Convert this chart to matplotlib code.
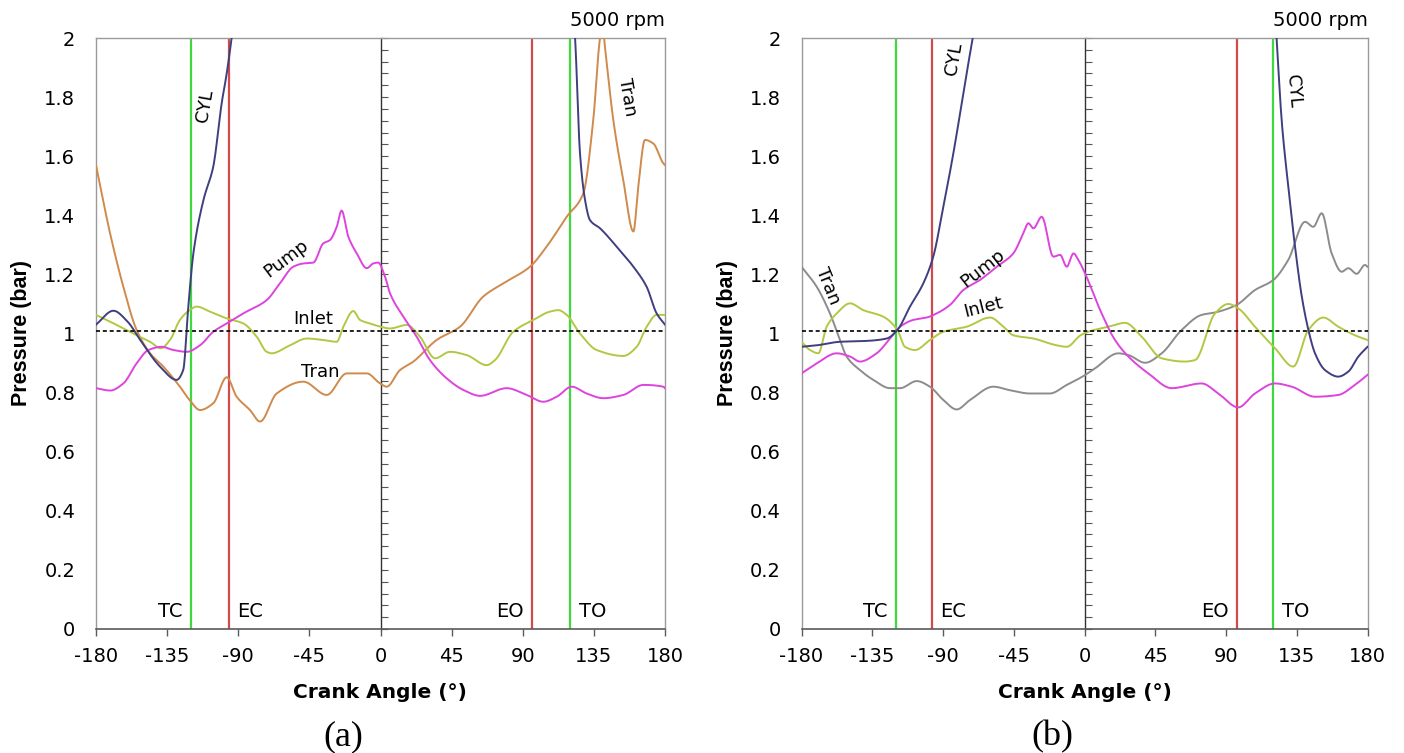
import numpy as np
import matplotlib
matplotlib.use("Agg")
import matplotlib.pyplot as plt

# ---------------------------------------------------------------- data
# Crank angle (deg) and pressure (bar); NaN separates curve branches.
ticks_x = [-180, -135, -90, -45, 0, 45, 90, 135, 180]
ticks_y = [0, 0.2, 0.4, 0.6, 0.8, 1.0, 1.2, 1.4, 1.6, 1.8, 2.0]
tick_y_labels = ["0", "0.2", "0.4", "0.6", "0.8", "1", "1.2", "1.4", "1.6", "1.8", "2"]
ambient = 1.01
speed_label = "5000 rpm"

# port timing (deg)
events_a = {"TC": -120, "EC": -96, "EO": 96, "TO": 120}
events_b = {"TC": -120, "EC": -97, "EO": 97, "TO": 120}

# ---- (a)
cyl_a_x = [-180, -169, -160, -152, -139.5, -129, -124.8, -121.6, -118.4, -112, -105.8,
           -100.5, -97.3, -94.2, -92, np.nan,
           121, 123.1, 126.2, 129.4, 132.5, 138.9, 149.4, 160, 168.4, 174.7, 180]
cyl_a_p = [1.03, 1.077, 1.04, 0.978, 0.888, 0.843, 0.877, 1.091, 1.271, 1.452, 1.565,
           1.779, 1.88, 2.0, 2.1, np.nan,
           2.15, 2.0, 1.61, 1.452, 1.384, 1.356, 1.294, 1.226, 1.158, 1.068, 1.03]

tran_a_x = [-180, -171.1, -162.7, -154.3, -145.8, -137.4, -126.9, -120.8, -114.2, -105.8,
            -97.3, -91, -82.6, -76.2, -65.7, -48.8, -34, -21.4, -8.7, -0.5, 3.9, 12.3,
            20.8, 35.5, 50.3, 65, 77.7, 94.6, 105.1, 117.8, 128.3, 134.6, 138.9, 140.5,
            142, 147.3, 153.6, 160, 163.1, 167.3, 172.6, 178.9, 180]
tran_a_p = [1.57, 1.339, 1.158, 1.012, 0.933, 0.888, 0.82, 0.775, 0.741, 0.764,
            0.852, 0.786, 0.741, 0.702, 0.797, 0.837, 0.792, 0.865, 0.865, 0.832, 0.82, 0.876,
            0.905, 0.978, 1.023, 1.125, 1.17, 1.226, 1.294, 1.395, 1.474, 1.722, 2.0, 2.04,
            1.97, 1.722, 1.519, 1.345, 1.497, 1.655, 1.643, 1.576, 1.57]

pump_a_x = [-180, -171, -162.7, -154.3, -146.9, -138.4, -131, -122.6, -114.2, -105.8,
            -97.3, -86.8, -72, -63.6, -55.2, -48.8, -42.5, -36.2, -32, -27.7, -24.6,
            -20.4, -15, -8.7, -4.6, -1.5, 3, 6, 14.4, 22.9, 31.3, 41.9, 52.4, 63, 79.8,
            92.5, 103, 111.5, 121, 130.4, 141, 153.6, 166.3, 178.9, 180]
pump_a_p = [0.815, 0.807, 0.831, 0.899, 0.944, 0.955, 0.944, 0.938, 0.96, 1.006,
            1.034, 1.068, 1.113, 1.17, 1.226, 1.237, 1.24, 1.305, 1.316, 1.361, 1.416,
            1.328, 1.271, 1.221, 1.237, 1.24, 1.19, 1.136, 1.057, 0.989, 0.91, 0.848, 0.809, 0.789, 0.815,
            0.792, 0.769, 0.786, 0.82, 0.797, 0.781, 0.792, 0.826, 0.82, 0.815]

inlet_a_x = [-180, -171, -162.7, -154.3, -145.8, -139, -133.2, -126.9, -120.8, -116.3,
             -107.9, -97.3, -86.8, -78.3, -72, -68.9, -57.3, -46.7, -36.2, -27.7, -23.5,
             -17.2, -13, -6.8, 0, 6, 16.6, 25, 34.5, 44, 54.5, 67.2, 72.4, 84, 96.7,
             107.2, 112.5, 117.8, 126.2, 136.8, 153.6, 162.1, 168.4, 174.7, 180]
inlet_a_p = [1.063, 1.04, 1.017, 0.994, 0.972, 0.95, 0.978, 1.046, 1.079, 1.091,
             1.074, 1.051, 1.034, 0.989, 0.938, 0.933, 0.96, 0.983, 0.978, 0.972, 1.023,
             1.076, 1.046, 1.034, 1.023, 1.017, 1.029, 0.989, 0.916, 0.938, 0.927, 0.893, 0.91, 1.006, 1.046,
             1.074, 1.079, 1.063, 1.0, 0.944, 0.924, 0.955, 1.023, 1.063, 1.063]

# ---- (b)
cyl_b_x = [-180, -170.3, -155.5, -138.5, -125.8, -119, -111, -102.5, -96.2, -89.8, -83.4,
           -78.1, -73.9, -71.1, -69, np.nan,
           120.5, 122.2, 125.4, 129.6, 133.9, 138.2, 142.4, 146.6, 153, 161.4, 167.8,
           174.2, 180]
cyl_b_p = [0.955, 0.96, 0.972, 0.975, 0.983, 1.012, 1.091, 1.17, 1.26, 1.429, 1.61,
           1.779, 1.914, 2.0, 2.08, np.nan,
           2.15, 2.0, 1.722, 1.497, 1.294, 1.125, 1.012, 0.933, 0.876, 0.854, 0.871,
           0.922, 0.955]

tran_b_x = [-180, -170.3, -161.9, -155.5, -151.3, -142.8, -134.3, -123.7, -117.3, -106.7,
            -98.3, -89.8, -81.3, -72.8, -58, -47.4, -34.7, -22, -11.3, -1, 6.7, 21.5,
            27.9, 38.5, 49.1, 61.8, 74.5, 83, 96.8, 108.4, 120.1, 129.6, 140.3, 145.5,
            150.9, 157.2, 163.6, 167.8, 173.1, 178.4, 180]
tran_b_p = [1.226, 1.158, 1.068, 0.978, 0.922, 0.876, 0.843, 0.815, 0.815, 0.839,
            0.82, 0.775, 0.743, 0.775, 0.82, 0.808, 0.797, 0.797, 0.826, 0.855, 0.882, 0.933,
            0.927, 0.901, 0.933, 1.012, 1.063, 1.071, 1.097, 1.147, 1.181, 1.249, 1.378, 1.361,
            1.407, 1.271, 1.209, 1.221, 1.202, 1.232, 1.226]

pump_b_x = [-180, -170.3, -157.6, -149.1, -142.8, -132.2, -123.7, -117.3, -108.9, -100.4,
            -94, -85.5, -77.1, -66.5, -55.8, -45.3, -38.9, -35.7, -32.5, -27.2, -19.8,
            -15.5, -11.3, -7, -4, 0.3, 10.9, 19.4, 27.9, 40.6, 55.5, 74.5, 85.1, 97.8,
            108.4, 121.2, 131.8, 146.6, 161.4, 172, 180]
pump_b_p = [0.865, 0.899, 0.933, 0.922, 0.905, 0.933, 0.983, 1.023, 1.046, 1.054,
            1.068, 1.097, 1.147, 1.181, 1.226, 1.271, 1.339, 1.373, 1.356, 1.395, 1.26,
            1.266, 1.226, 1.271, 1.25, 1.204, 1.068, 0.978, 0.922, 0.865, 0.815, 0.831, 0.797, 0.75,
            0.797, 0.831, 0.82, 0.786, 0.792, 0.826, 0.86]

inlet_b_x = [-180, -174.6, -169.3, -164, -157.6, -149.1, -140.7, -128, -119, -114.2,
             -107.8, -98.3, -89.8, -74.9, -60.1, -51.6, -45.3, -32.5, -17.7, -11.3, -2.5,
             2.4, 15.2, 25.8, 36.4, 49.1, 63.9, 70.3, 83, 91.5, 97.8, 108.4, 121.2, 132.8,
             142.4, 151.9, 161.4, 172, 180]
inlet_b_p = [0.972, 0.944, 0.933, 1.023, 1.068, 1.102, 1.079, 1.057, 1.012, 0.955,
             0.944, 0.978, 1.006, 1.023, 1.054, 1.023, 0.994, 0.983, 0.96, 0.955, 0.994,
             1.006, 1.023, 1.036, 0.989, 0.916, 0.905, 0.91, 1.068, 1.1, 1.085, 1.023, 0.95, 0.888,
             1.012, 1.054, 1.023, 0.994, 0.978]

# ---------------------------------------------------------------- style
C_CYL = "#3f3f80"
C_TRAN_A = "#cf8a4c"
C_TRAN_B = "#8c8c8c"
C_PUMP = "#dd44dd"
C_INLET = "#b2c843"
C_GREEN = "#3fd83f"
C_RED = "#d24a4a"
SANS = ["DejaVu Sans"]
SANS_V = ["Liberation Sans", "DejaVu Sans"]
SERIF = ["Liberation Serif", "DejaVu Serif"]

W, H = 1404, 753


def pchip(x, y, n=12):
    """Shape-preserving cubic through the points, NaN-separated branches kept apart."""
    x = np.asarray(x, float)
    y = np.asarray(y, float)
    out_x, out_y = [], []
    breaks = np.where(np.isnan(x))[0]
    starts = np.concatenate([[0], breaks + 1])
    ends = np.concatenate([breaks, [len(x)]])
    for s, e in zip(starts, ends):
        xs, ys = x[s:e], y[s:e]
        h = np.diff(xs)
        d = np.diff(ys) / h
        m = np.zeros_like(ys)
        m[0], m[-1] = d[0], d[-1]
        for k in range(1, len(xs) - 1):
            if d[k - 1] * d[k] <= 0:
                m[k] = 0.0
            else:
                w1 = 2 * h[k] + h[k - 1]
                w2 = h[k] + 2 * h[k - 1]
                m[k] = (w1 + w2) / (w1 / d[k - 1] + w2 / d[k])
        for k in range(len(xs) - 1):
            t = np.linspace(0, 1, n, endpoint=(k == len(xs) - 2))
            h00 = 2 * t**3 - 3 * t**2 + 1
            h10 = t**3 - 2 * t**2 + t
            h01 = -2 * t**3 + 3 * t**2
            h11 = t**3 - t**2
            out_x.append(xs[k] + t * h[k])
            out_y.append(h00 * ys[k] + h10 * h[k] * m[k] + h01 * ys[k + 1] + h11 * h[k] * m[k + 1])
        out_x.append([np.nan])
        out_y.append([np.nan])
    return np.concatenate(out_x), np.concatenate(out_y)


fig = plt.figure(figsize=(W / 100, H / 100), dpi=100)


def px_axes(x0, x1, y0, y1):
    return fig.add_axes([x0 / W, 1 - y1 / H, (x1 - x0) / W, (y1 - y0) / H])


def panel(ax, curves, events, labels, cx):
    ax.set_xlim(-180, 180)
    ax.set_ylim(0, 2)
    for sp in ("top", "left", "right"):
        ax.spines[sp].set_color("#9a9a9a")
        ax.spines[sp].set_linewidth(1.0)
    ax.spines["bottom"].set_color("#5a5a5a")
    ax.spines["bottom"].set_linewidth(1.2)

    ax.set_xticks(ticks_x)
    ax.set_xticklabels([str(t) for t in ticks_x], family=SANS, fontsize=14)
    ax.tick_params(axis="x", direction="out", length=5, width=1, color="#5a5a5a", pad=8)
    ax.set_yticks(ticks_y)
    ax.set_yticklabels(tick_y_labels, family=SANS, fontsize=14)
    ax.tick_params(axis="y", length=0, pad=15)

    # centre spine at zero crank angle with fine ticks to its right
    sec = ax.secondary_yaxis(0.5)
    for sp in sec.spines.values():
        sp.set_color("#333333")
        sp.set_linewidth(1.0)
    sec.set_yticks(np.arange(0, 2.001, 0.04))
    sec.set_yticklabels([])
    sec.tick_params(axis="y", direction="out", length=5, width=0.8, color="#555555",
                    labelleft=False, labelright=False)

    # port events
    for name, ang in events.items():
        col = C_GREEN if name in ("TC", "TO") else C_RED
        ax.axvline(ang, color=col, lw=1.6, zorder=2)
        left_side = name in ("TC", "EO")
        ax.annotate(name, (ang, 0.06), xytext=(-6 if left_side else 6, 0),
                    textcoords="offset points", ha="right" if left_side else "left",
                    va="center", fontsize=14, family=SANS)

    ax.axhline(ambient, color="#111111", lw=1.3, ls=(0, (2.2, 1.6)), zorder=4)

    for xs, ps, col in curves:
        sx, sy = pchip(xs, ps)
        ax.plot(sx, sy, color=col, lw=1.4, zorder=3, solid_joinstyle="round")

    for txt, x, y, rot in labels:
        ax.text(x, y, txt, rotation=rot, ha="center", va="center", fontsize=13,
                family=SANS, rotation_mode="anchor", zorder=5)

    fig.text(cx / W, 1 - 693 / H, "Crank Angle (°)", ha="center", va="center",
             fontsize=14.5, fontweight="bold", family=SANS)


ax_a = px_axes(96, 665, 38, 629)
ax_b = px_axes(801.5, 1367.5, 38, 629)

panel(ax_a,
      [(tran_a_x, tran_a_p, C_TRAN_A), (inlet_a_x, inlet_a_p, C_INLET),
       (pump_a_x, pump_a_p, C_PUMP), (cyl_a_x, cyl_a_p, C_CYL)],
      events_a,
      [("CYL", -111, 1.77, 80), ("Pump", -60, 1.255, 37), ("Inlet", -42.5, 1.05, 0),
       ("Tran", -38, 0.87, 0), ("Tran", 156, 1.80, -80)],
      380)
panel(ax_b,
      [(tran_b_x, tran_b_p, C_TRAN_B), (inlet_b_x, inlet_b_p, C_INLET),
       (pump_b_x, pump_b_p, C_PUMP), (cyl_b_x, cyl_b_p, C_CYL)],
      events_b,
      [("CYL", -83, 1.93, 80), ("Tran", -163, 1.16, -68), ("Pump", -65, 1.22, 38),
       ("Inlet", -64, 1.09, 14), ("CYL", 132.6, 1.82, -85)],
      1085)

for cx, right in ((22, 665), (728, 1367.5)):
    fig.text(cx / W, 1 - 333 / H, "Pressure (bar)", rotation=90, ha="center",
             va="center", fontsize=15.5, fontweight="bold", family=SANS_V)
    fig.text(right / W, 1 - 21 / H, speed_label, ha="right", va="center",
             fontsize=14, family=SANS)

fig.text(343 / W, 1 - 737 / H, "(a)", ha="center", va="center", fontsize=26, family=SERIF)
fig.text(1052 / W, 1 - 737 / H, "(b)", ha="center", va="center", fontsize=26, family=SERIF)

fig.savefig("out.png", dpi=100, facecolor="white")
